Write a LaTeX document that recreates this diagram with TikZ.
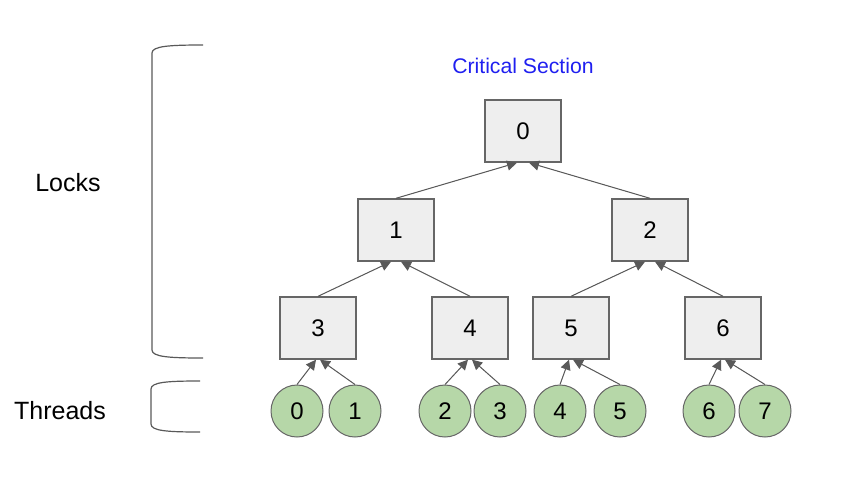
\documentclass[tikz,border=0pt]{standalone}
\usepackage{fontspec}
\setmainfont{Liberation Sans}
\usetikzlibrary{arrows.meta}
\definecolor{lockfill}{HTML}{EEEEEE}
\definecolor{edgegray}{HTML}{666666}
\definecolor{threadfill}{HTML}{B6D7A8}
\definecolor{csblue}{HTML}{1F1FF0}

\begin{document}
\begin{tikzpicture}[
    x=1pt, y=-1pt,
    >={Triangle[length=10pt, width=10pt]},
    lock/.style={rectangle, draw=edgegray, line width=1.4pt, fill=lockfill, minimum width=76pt, minimum height=62pt, font=\fontsize{24}{26}\selectfont},
    thread/.style={circle, draw=edgegray, line width=1pt, fill=threadfill, minimum size=52pt, inner sep=0pt, font=\fontsize{24}{26}\selectfont},
    arr/.style={->, line width=1pt, draw=black!65, fill=black!65},
    brk/.style={line width=1.2pt, draw=black!65},
    lbl/.style={font=\fontsize{25}{27}\selectfont}
]
\useasboundingbox (0,0) rectangle (865,493);

% locks
\node[lock] (l0) at (523,131) {0};
\node[lock] (l1) at (396,230) {1};
\node[lock] (l2) at (650,230) {2};
\node[lock] (l3) at (318,328) {3};
\node[lock] (l4) at (470,328) {4};
\node[lock] (l5) at (571,328) {5};
\node[lock] (l6) at (723,328) {6};

% threads
\node[thread] (t0) at (297,411) {0};
\node[thread] (t1) at (355,411) {1};
\node[thread] (t2) at (445,411) {2};
\node[thread] (t3) at (500,411) {3};
\node[thread] (t4) at (560,411) {4};
\node[thread] (t5) at (620,411) {5};
\node[thread] (t6) at (709,411) {6};
\node[thread] (t7) at (765,411) {7};

\node[text=csblue, font=\fontsize{21.2}{23}\selectfont] (cs) at (523,66) {Critical Section};
\node[lbl] (locks) at (68,183) {Locks};
\node[lbl] (threads) at (60,411) {Threads};

% tree edges
\draw[arr] (l1.north) -- ([xshift=-6pt]l0.south);
\draw[arr] (l2.north) -- ([xshift=6pt]l0.south);
\draw[arr] (l3.north) -- ([xshift=-5pt]l1.south);
\draw[arr] (l4.north) -- ([xshift=5pt]l1.south);
\draw[arr] (l5.north) -- ([xshift=-5pt]l2.south);
\draw[arr] (l6.north) -- ([xshift=5pt]l2.south);

\draw[arr] (t0.north) -- ([xshift=-2pt]l3.south);
\draw[arr] (t1.north) -- ([xshift=2pt]l3.south);
\draw[arr] (t2.north) -- ([xshift=-2pt]l4.south);
\draw[arr] (t3.north) -- ([xshift=2pt]l4.south);
\draw[arr] (t4.north) -- ([xshift=-2pt]l5.south);
\draw[arr] (t5.north) -- ([xshift=2pt]l5.south);
\draw[arr] (t6.north) -- ([xshift=-2pt]l6.south);
\draw[arr] (t7.north) -- ([xshift=2pt]l6.south);

% brackets
\draw[brk] (203,45) .. controls (170,45) and (152,46) .. (152,53) -- (152,350) .. controls (152,357) and (170,358) .. (203,358);
\draw[brk] (200,381) .. controls (168,381) and (151,382) .. (151,389) -- (151,424) .. controls (151,431) and (168,432) .. (200,432);

\end{tikzpicture}
\end{document}
